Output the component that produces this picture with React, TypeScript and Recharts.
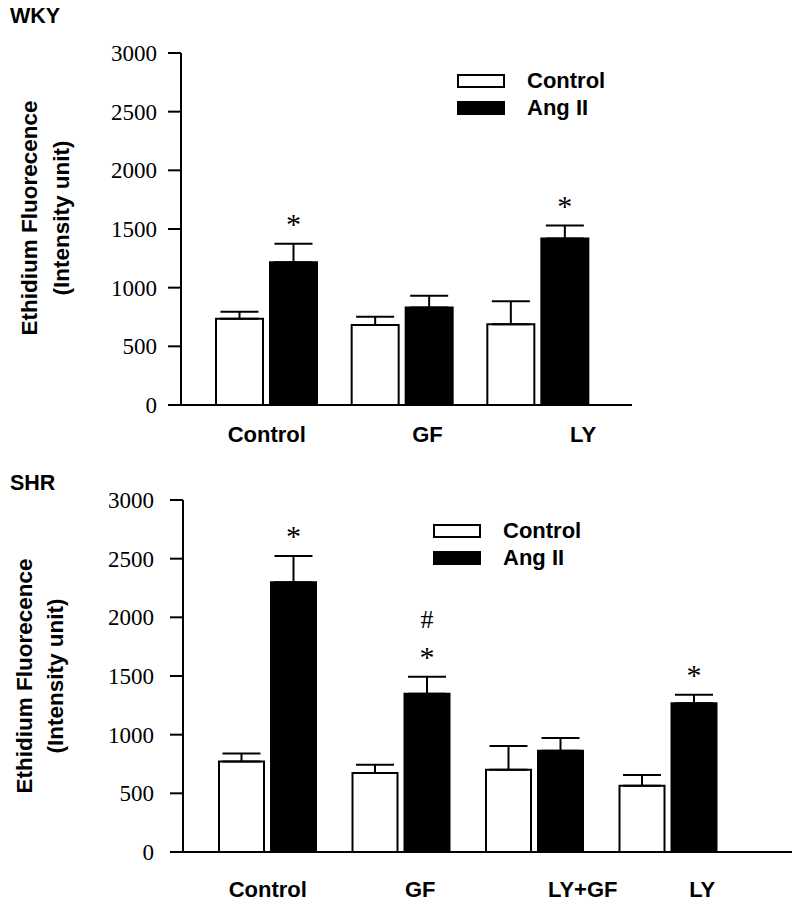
import React from 'react';
import { BarChart, Bar, XAxis, YAxis, ErrorBar, LabelList } from 'recharts';

// WKY panel
const wkyGroups = ['Control', 'GF', 'LY'];
const wkyControl = [735, 682, 688];
const wkyControlErr = [60, 70, 196];
const wkyAng = [1217, 830, 1418];
const wkyAngErr = [158, 102, 111];
const wkyMarks = ['*', '', '*'];

// SHR panel
const shrGroups = ['Control', 'GF', 'LY+GF', 'LY'];
const shrControl = [772, 673, 701, 565];
const shrControlErr = [68, 71, 202, 91];
const shrAng = [2298, 1349, 863, 1267];
const shrAngErr = [225, 145, 108, 74];
const shrMarks = ['*', '#*', '', '*'];

const yTicks = [0, 500, 1000, 1500, 2000, 2500, 3000];
const seriesNames = ['Control', 'Ang II'];

const SANS = '"Liberation Sans", Arial, sans-serif';
const SERIF = '"Liberation Serif", "Times New Roman", serif';

type Row = {
  group: string;
  control: number;
  controlErr: number[];
  ang: number;
  angErr: number[];
  mark: string;
};

function buildRows(groups: string[], c: number[], ce: number[], a: number[], ae: number[], m: string[]): Row[] {
  return groups.map((g, i) => ({
    group: g,
    control: c[i],
    controlErr: [0, ce[i]],
    ang: a[i],
    angErr: [0, ae[i]],
    mark: m[i],
  }));
}

const wkyRows = buildRows(wkyGroups, wkyControl, wkyControlErr, wkyAng, wkyAngErr, wkyMarks);
const shrRows = buildRows(shrGroups, shrControl, shrControlErr, shrAng, shrAngErr, shrMarks);

function makeTick(shifts: number[], drop: number) {
  return (props: any) => {
    const { x, y, payload } = props;
    return (
      <text x={x + (shifts[payload.index] || 0)} y={y + drop} textAnchor="middle"
        fontFamily={SANS} fontWeight="bold" fontSize={22} fill="#000">
        {payload.value}
      </text>
    );
  };
}

// significance marks (* and #) sit just above the Ang II error bar
function makeMark(rows: Row[]) {
  return (props: any) => {
    const { x, y, width, height, index } = props;
    const row = rows[index];
    if (!row || !row.mark) return null;
    const unit = height / row.ang;
    const top = y - row.angErr[1] * unit;
    const cx = x + width / 2;
    const chars = row.mark.split('');
    return (
      <g>
        {chars.map((ch, i) => (
          <text key={i} x={cx} y={top - 10 - (chars.length - 1 - i) * 39} textAnchor="middle"
            fontFamily={SERIF} fontSize={ch === '*' ? 30 : 26} fill="#000">
            {ch}
          </text>
        ))}
      </g>
    );
  };
}

function LegendBox({ left, top }: { left: number; top: number }) {
  return (
    <div style={{ position: 'absolute', left, top }}>
      {seriesNames.map((name, i) => (
        <div key={name} style={{ display: 'flex', alignItems: 'center', height: 27 }}>
          <div style={{ width: 44, height: 10, border: '2px solid #000', background: i === 0 ? '#fff' : '#000' }} />
          <span style={{ marginLeft: 22, fontFamily: SANS, fontWeight: 'bold', fontSize: 22, color: '#000', lineHeight: '27px' }}>
            {name}
          </span>
        </div>
      ))}
    </div>
  );
}

function YLabel({ cy, x1, x2 }: { cy: number; x1: number; x2: number }) {
  const common = { textAnchor: 'middle' as const, dominantBaseline: 'central' as const, fontFamily: SANS, fontWeight: 'bold', fontSize: 22.5, fill: '#000' };
  return (
    <g>
      <text x={x1} y={cy} transform={`rotate(-90, ${x1}, ${cy})`} {...common}>Ethidium Fluorecence</text>
      <text x={x2} y={cy} transform={`rotate(-90, ${x2}, ${cy})`} {...common}>(Intensity unit)</text>
    </g>
  );
}

type PanelProps = {
  rows: Row[];
  height: number;
  marginTop: number;
  marginRight: number;
  yWidth: number;
  tickMargin: number;
  padding: { left: number; right: number };
  barSize: number;
  shifts: number[];
  drop: number;
  label: { cy: number; x1: number; x2: number };
};

function Panel(p: PanelProps) {
  return (
    <BarChart width={800} height={p.height} data={p.rows}
      margin={{ top: p.marginTop, right: p.marginRight, bottom: 0, left: 0 }}
      barGap={7} barSize={p.barSize}>
      <XAxis dataKey="group" height={55} padding={p.padding} tickLine={false} tickSize={0} tickMargin={0}
        axisLine={{ stroke: '#000', strokeWidth: 2 }} tick={makeTick(p.shifts, p.drop)} interval={0} />
      <YAxis domain={[0, 3000]} ticks={yTicks} width={p.yWidth} tickSize={13} tickMargin={p.tickMargin}
        axisLine={{ stroke: '#000', strokeWidth: 2 }} tickLine={{ stroke: '#000', strokeWidth: 2 }}
        tick={{ fontFamily: SERIF, fontSize: 23, fill: '#000' }}
        label={{ content: () => <YLabel {...p.label} /> }} />
      <Bar dataKey="control" name={seriesNames[0]} fill="#fff" stroke="#000" strokeWidth={2} isAnimationActive={false}>
        <ErrorBar dataKey="controlErr" width={19} stroke="#000" strokeWidth={2} isAnimationActive={false} />
      </Bar>
      <Bar dataKey="ang" name={seriesNames[1]} fill="#000" stroke="#000" strokeWidth={2} isAnimationActive={false}>
        <ErrorBar dataKey="angErr" width={19} stroke="#000" strokeWidth={2} isAnimationActive={false} />
        <LabelList dataKey="mark" content={makeMark(p.rows)} />
      </Bar>
    </BarChart>
  );
}

export default function App() {
  return (
    <div style={{ position: 'absolute', left: 0, top: 0, width: 800, height: 907, background: '#fff' }}>
      <div style={{ position: 'absolute', left: 0, top: 0 }}>
        <Panel rows={wkyRows} height={460} marginTop={53} marginRight={168} yWidth={181} tickMargin={11}
          padding={{ left: 18, right: 26 }} barSize={47} shifts={[0, 25, 45]} drop={37}
          label={{ cy: 218, x1: 29, x2: 61 }} />
      </div>
      <div style={{ position: 'absolute', left: 0, top: 460 }}>
        <Panel rows={shrRows} height={447} marginTop={40} marginRight={8} yWidth={183} tickMargin={16}
          padding={{ left: 18, right: 57 }} barSize={45} shifts={[0, 19, 48, 34]} drop={45}
          label={{ cy: 216, x1: 24, x2: 55 }} />
      </div>
      <div style={{ position: 'absolute', left: 10, top: 4, fontFamily: SANS, fontWeight: 'bold', fontSize: 21.5 }}>WKY</div>
      <div style={{ position: 'absolute', left: 10, top: 471, fontFamily: SANS, fontWeight: 'bold', fontSize: 21.5 }}>SHR</div>
      <LegendBox left={457} top={67} />
      <LegendBox left={433} top={517} />
    </div>
  );
}
